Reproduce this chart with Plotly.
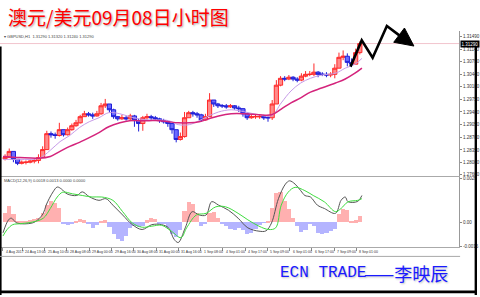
import plotly.graph_objects as go

W, H = 480, 297
def px(x):
    return x / W
def py(y):
    return 1 - y / H

# ---------------- data (3-hour candles of the H1 chart) ----------------
first_open = 1.2811
close = [1.2814, 1.2831, 1.2809, 1.2798, 1.2801, 1.2801, 1.2804, 1.2806, 1.2814, 1.2836,
         1.2880, 1.2877, 1.2875, 1.2891, 1.2877, 1.2891, 1.2902, 1.2910, 1.2927, 1.2935,
         1.2932, 1.2929, 1.2935, 1.2957, 1.2962, 1.2946, 1.2927, 1.2921, 1.2924, 1.2921,
         1.2929, 1.2916, 1.2908, 1.2924, 1.2927, 1.2924, 1.2921, 1.2916, 1.2913, 1.2908,
         1.2891, 1.2864, 1.2872, 1.2924, 1.2938, 1.2935, 1.2932, 1.2918, 1.2927, 1.2973,
         1.2962, 1.2957, 1.2957, 1.2954, 1.2957, 1.2951, 1.2949, 1.2935, 1.2924, 1.2927,
         1.2927, 1.2927, 1.2924, 1.2924, 1.2962, 1.3014, 1.3033, 1.3031, 1.3036, 1.3031,
         1.3028, 1.3039, 1.3044, 1.3044, 1.3050, 1.3044, 1.3044, 1.3042, 1.3044, 1.3061,
         1.3091, 1.3094, 1.3077, 1.3072, 1.3104, 1.3129]
high = [1.2823, 1.2839, 1.2831, 1.2809, 1.2806, 1.2806, 1.2809, 1.2812, 1.2823, 1.2845,
        1.2888, 1.2886, 1.2883, 1.2910, 1.2891, 1.2897, 1.2908, 1.2918, 1.2932, 1.2943,
        1.2940, 1.2938, 1.2943, 1.2965, 1.2976, 1.2962, 1.2949, 1.2929, 1.2932, 1.2929,
        1.2935, 1.2932, 1.2921, 1.2929, 1.2935, 1.2932, 1.2929, 1.2924, 1.2921, 1.2916,
        1.2908, 1.2891, 1.2883, 1.2940, 1.2943, 1.2943, 1.2940, 1.2935, 1.2935, 1.2992,
        1.2973, 1.2965, 1.2962, 1.2962, 1.2962, 1.2959, 1.2957, 1.2951, 1.2938, 1.2932,
        1.2932, 1.2932, 1.2932, 1.2932, 1.2973, 1.3028, 1.3039, 1.3039, 1.3042, 1.3039,
        1.3036, 1.3047, 1.3053, 1.3053, 1.3074, 1.3053, 1.3050, 1.3050, 1.3050, 1.3072,
        1.3104, 1.3110, 1.3102, 1.3088, 1.3115, 1.3135]
low = [1.2806, 1.2814, 1.2801, 1.2793, 1.2795, 1.2795, 1.2798, 1.2798, 1.2798, 1.2814,
       1.2836, 1.2869, 1.2866, 1.2872, 1.2872, 1.2875, 1.2888, 1.2899, 1.2908, 1.2927,
       1.2927, 1.2921, 1.2927, 1.2932, 1.2951, 1.2938, 1.2921, 1.2916, 1.2918, 1.2916,
       1.2918, 1.2899, 1.2886, 1.2888, 1.2918, 1.2916, 1.2916, 1.2910, 1.2908, 1.2899,
       1.2880, 1.2856, 1.2861, 1.2869, 1.2924, 1.2927, 1.2924, 1.2913, 1.2916, 1.2927,
       1.2954, 1.2951, 1.2951, 1.2949, 1.2951, 1.2946, 1.2940, 1.2927, 1.2918, 1.2921,
       1.2921, 1.2921, 1.2918, 1.2913, 1.2918, 1.2962, 1.3011, 1.3025, 1.3028, 1.3025,
       1.3022, 1.3025, 1.3036, 1.3039, 1.3039, 1.3036, 1.3039, 1.3036, 1.3036, 1.3033,
       1.3061, 1.3083, 1.3066, 1.3064, 1.3072, 1.3099]
open_ = [first_open] + close[:-1]
bar_hours = 3
x_candle = [bar_hours * j + bar_hours / 2 for j in range(len(close))]

# moving averages (sampled along the bar axis, in hours)
ma_x = [0, 12, 26, 34, 41, 48, 55, 62, 69, 76, 84, 91, 98, 105, 112, 119, 126, 134, 141, 148,
        155, 164, 174, 184, 193, 200, 207, 214, 221, 229, 239, 246, 253, 258]
ma_fast = [1.2809, 1.2809, 1.2812, 1.2834, 1.2858, 1.2875, 1.2897, 1.2913, 1.2924, 1.2938,
           1.2935, 1.2927, 1.2921, 1.2918, 1.2918, 1.2916, 1.2905, 1.2905, 1.2916, 1.2929,
           1.2940, 1.2946, 1.2940, 1.2932, 1.2929, 1.2965, 1.2998, 1.3020, 1.3033, 1.3042,
           1.3047, 1.3061, 1.3072, 1.3088]
ma_slow = [1.2817, 1.2814, 1.2812, 1.2817, 1.2831, 1.2845, 1.2856, 1.2869, 1.2883, 1.2899,
           1.2910, 1.2916, 1.2916, 1.2916, 1.2916, 1.2913, 1.2910, 1.2910, 1.2913, 1.2921,
           1.2929, 1.2935, 1.2935, 1.2932, 1.2932, 1.2948, 1.2965, 1.2979, 1.2995, 1.3006,
           1.3020, 1.3031, 1.3047, 1.3061]

# MACD panel
macd_hist = [0.00064, 0.00109, 0.00058, 0.00003, 0.00006, 0.00010, 0.00013, 0.00019, 0.00026, 0.00064,
             0.00116, 0.00142, 0.00129, 0.00097, -0.00006, -0.00019, -0.00013, 0.00006, 0.00019, 0.00013,
             -0.00013, -0.00039, -0.00019, 0.00010, 0.00013, -0.00032, -0.00077, -0.00109, -0.00122, -0.00090,
             -0.00039, -0.00026, -0.00032, -0.00026, 0.00013, 0.00026, 0.00019, -0.00006, -0.00013, -0.00039,
             -0.00077, -0.00097, -0.00052, 0.00077, 0.00135, 0.00122, 0.00064, -0.00026, -0.00013, 0.00064,
             0.00071, 0.00032, -0.00006, -0.00026, -0.00045, -0.00052, -0.00039, -0.00052, -0.00077, -0.00071,
             -0.00045, -0.00019, -0.00003, 0.00003, 0.00097, 0.00193, 0.00200, 0.00142, 0.00090, 0.00032,
             -0.00026, -0.00064, -0.00052, -0.00013, -0.00026, -0.00071, -0.00077, -0.00071, -0.00058, -0.00045,
             0.00052, 0.00090, 0.00084, 0.00010, 0.00013, 0.00039]
macd_x = [0, 4, 6, 10, 21, 25, 29, 31, 36, 39, 42, 46, 53, 57, 62, 69, 74, 79, 86, 93,
          100, 107, 114, 119, 123, 126, 131, 136, 141, 146, 150, 155, 162, 169, 176, 184, 189, 193, 198, 203,
          206, 210, 214, 217, 221, 226, 231, 239, 243, 246, 248, 255, 258]
macd_main = [-0.00068, 0.00018, 0.00029, -0.00003, -0.00003, 0.00018, 0.00061, 0.00115, 0.00203, 0.00235,
             0.00222, 0.00190, 0.00179, 0.00203, 0.00171, 0.00147, 0.00158, 0.00115, 0.00050, -0.00014,
             -0.00046, -0.00014, -0.00014, -0.00035, -0.00111, -0.00132, -0.00035, 0.00072, 0.00050, 0.00050,
             0.00138, 0.00115, 0.00082, 0.00029, -0.00035, -0.00057, -0.00055, -0.00003, 0.00158, 0.00254,
             0.00276, 0.00254, 0.00211, 0.00179, 0.00169, 0.00115, 0.00093, 0.00061, 0.00147, 0.00169,
             0.00138, 0.00140, 0.00179]
signal_x = [0, 3, 7, 12, 21, 29, 34, 39, 43, 50, 57, 64, 71, 79, 86, 93, 100, 107, 114, 121,
            128, 132, 139, 146, 153, 160, 169, 176, 184, 191, 196, 200, 205, 210, 217, 223, 231, 239, 243, 248,
            255, 258]
macd_signal = [-0.00089, -0.00046, -0.00014, -0.00008, 0.00003, 0.00029, 0.00093, 0.00169, 0.00201, 0.00190,
               0.00179, 0.00169, 0.00169, 0.00147, 0.00072, -0.00003, -0.00031, -0.00024, -0.00018, -0.00057,
               -0.00100, -0.00035, 0.00050, 0.00061, 0.00104, 0.00104, 0.00061, 0.00018, -0.00024, -0.00046,
               -0.00035, 0.00115, 0.00201, 0.00233, 0.00211, 0.00179, 0.00137, 0.00072, 0.00093, 0.00137,
               0.00147, 0.00158]

price_ticks = [1.31490, 1.31140, 1.30790, 1.30440, 1.30100, 1.29750, 1.29400, 1.29050,
               1.28700, 1.28350, 1.28000, 1.27660]
macd_ticks = [0.0029, 0.0, -0.0016]
macd_tick_text = ["0.0029", "0.00", "-0.0016"]
bid = 1.3129
date_hours = [0, 14, 30, 46, 62, 78, 94, 110, 126, 142, 158, 174, 190, 206, 222, 238, 254]
date_labels = ["4 Aug 2017", "24 Aug 13:00", "25 Aug 10:00", "28 Aug 08:00", "29 Aug 00:00",
               "29 Aug 16:00", "30 Aug 08:00", "31 Aug 00:00", "31 Aug 16:00", "1 Sep 08:00",
               "4 Sep 01:00", "4 Sep 17:00", "5 Sep 09:00", "6 Sep 01:00", "6 Sep 17:00",
               "7 Sep 09:00", "8 Sep 01:00"]

title_text = "澳元/美元09月08日小时图"
header_text = "▾ GBPUSD,H1  1.31290 1.31320 1.31240 1.31290"
macd_text = "MACD(12,26,9) 0.0018 0.0013 0.0000 0.0000"

# ---------------- figure ----------------
fig = go.Figure()

fig.add_trace(go.Candlestick(
    x=x_candle, open=open_, high=high, low=low, close=close,
    increasing=dict(line=dict(color="#ff2a2a", width=1), fillcolor="#ff8a8a"),
    decreasing=dict(line=dict(color="#1f1fd8", width=1), fillcolor="#6a6aff"),
    whiskerwidth=0, xaxis="x", yaxis="y", hoverinfo="skip"))
fig.add_trace(go.Scatter(x=ma_x, y=ma_fast, mode="lines", line=dict(color="#c79be8", width=1, shape="spline"),
                         xaxis="x", yaxis="y", hoverinfo="skip"))
fig.add_trace(go.Scatter(x=ma_x, y=ma_slow, mode="lines", line=dict(color="#d4247c", width=1.5, shape="spline"),
                         xaxis="x", yaxis="y", hoverinfo="skip"))

hist_colors = ["#ffb0b0" if v >= 0 else "#b4b4ff" for v in macd_hist]
fig.add_trace(go.Bar(x=x_candle, y=macd_hist, width=bar_hours, marker=dict(color=hist_colors, line=dict(width=0)),
                     xaxis="x2", yaxis="y2", hoverinfo="skip"))
fig.add_trace(go.Scatter(x=macd_x, y=macd_main, mode="lines", line=dict(color="#555555", width=1, shape="spline"),
                         xaxis="x2", yaxis="y2", hoverinfo="skip"))
fig.add_trace(go.Scatter(x=signal_x, y=macd_signal, mode="lines", line=dict(color="#3fdc3f", width=1, shape="spline"),
                         xaxis="x2", yaxis="y2", hoverinfo="skip"))

x_range = [-3 / 1.4, (462 - 3) / 1.4]
tickfont = dict(family="Liberation Sans", size=4.5, color="#333333")

fig.update_layout(
    width=W, height=H, autosize=False,
    margin=dict(l=0, r=0, t=0, b=0),
    paper_bgcolor="white", plot_bgcolor="white",
    showlegend=False, hovermode=False, bargap=0, boxgap=0, boxgroupgap=0,
    xaxis=dict(domain=[0, px(462)], range=x_range, anchor="y", showticklabels=False,
               showgrid=False, zeroline=False, showline=True, linecolor="#777777", linewidth=1,
               rangeslider=dict(visible=False), ticks=""),
    xaxis2=dict(domain=[0, px(462)], range=x_range, anchor="y2", matches="x", showticklabels=False,
                showgrid=False, zeroline=False, showline=True, mirror=True, linecolor="#aaaaaa", linewidth=1,
                tickvals=date_hours, ticks="outside", ticklen=3, tickcolor="#888888", tickwidth=1),
    yaxis=dict(domain=[py(177), py(30)], range=[1.27624, 1.31646], anchor="x", side="right",
               tickvals=price_ticks, ticktext=["%.5f" % v for v in price_ticks], tickfont=tickfont,
               ticks="outside", ticklen=2, tickcolor="#888888", showgrid=False, zeroline=False,
               showline=True, linecolor="#999999", linewidth=1),
    yaxis2=dict(domain=[py(249), py(178)], range=[-0.00165, 0.0030], anchor="x2", side="right",
                tickvals=macd_ticks, ticktext=macd_tick_text, tickfont=tickfont,
                ticks="outside", ticklen=2, tickcolor="#888888", showgrid=False, zeroline=False,
                showline=True, linecolor="#999999", linewidth=1),
)

shapes = [
    dict(type="line", xref="paper", yref="y", x0=0, x1=px(462), y0=bid, y1=bid,
         line=dict(color="#f2c4cd", width=1), layer="below"),
    dict(type="rect", xref="paper", yref="paper", x0=0, x1=px(1.6), y0=0, y1=py(46),
         fillcolor="black", line=dict(width=0)),
    dict(type="rect", xref="paper", yref="paper", x0=px(477.6), x1=1, y0=0, y1=py(46),
         fillcolor="black", line=dict(width=0)),
    dict(type="rect", xref="paper", yref="paper", x0=0, x1=1, y0=py(295.2), y1=py(292.4),
         fillcolor="black", line=dict(width=0)),
    dict(type="line", xref="paper", yref="paper", x0=0, x1=px(463), y0=py(258), y1=py(258),
         line=dict(color="#a8a8a8", width=1)),
]
# hand-drawn zigzag arrow (decoration)
arrow_pts = [(352.7, 66.3), (364, 39.7), (375, 57.3), (389.3, 25.3), (402.5, 35.2)]
path = "M " + " L ".join("%.5f %.5f" % (px(a), py(b)) for a, b in arrow_pts)
shapes.append(dict(type="path", xref="paper", yref="paper", path=path,
                   line=dict(color="black", width=2.6)))
head = [(416.5, 45.5), (396.2, 41.7), (407, 27.3)]
hpath = "M " + " L ".join("%.5f %.5f" % (px(a), py(b)) for a, b in head) + " Z"
shapes.append(dict(type="path", xref="paper", yref="paper", path=hpath,
                   fillcolor="black", line=dict(color="black", width=1)))
fig.update_layout(shapes=shapes)

ann = []
ann.append(dict(text=title_text, xref="paper", yref="paper", x=px(6), y=py(16),
                xanchor="left", yanchor="middle", showarrow=False,
                font=dict(family="Noto Sans CJK SC", size=19, color="#ff0000",
                          shadow="1px 1px 2px rgba(0,0,0,0.35)")))
ann.append(dict(text=header_text, xref="paper", yref="paper", x=px(2), y=py(35.5),
                xanchor="left", yanchor="middle", showarrow=False,
                font=dict(family="Liberation Sans", size=4, color="#444444")))
ann.append(dict(text=macd_text, xref="paper", yref="paper", x=px(2), y=py(181.5),
                xanchor="left", yanchor="middle", showarrow=False,
                font=dict(family="Liberation Sans", size=4, color="#444444")))
ann.append(dict(text="%.5f" % bid, xref="paper", yref="y", x=px(463), y=bid,
                xanchor="left", yanchor="middle", showarrow=False, bgcolor="black", borderpad=0.5,
                font=dict(family="Liberation Sans", size=4.5, color="white")))
for hx, lab in zip(date_hours, date_labels):
    ann.append(dict(text=lab, xref="x2", yref="paper", x=hx, y=py(253.5),
                    xanchor="left", yanchor="middle", showarrow=False, xshift=1,
                    font=dict(family="Liberation Sans", size=3.5, color="#333333")))
ann.append(dict(text="ECN TRADE", xref="paper", yref="paper", x=px(280), y=py(275),
                xanchor="left", yanchor="middle", showarrow=False,
                font=dict(family="Liberation Mono", size=16, color="#1a1aff",
                          shadow="1px 1px 2px rgba(0,0,0,0.25)")))
ann.append(dict(text="——李映辰", xref="paper", yref="paper", x=px(364), y=py(275),
                xanchor="left", yanchor="middle", showarrow=False,
                font=dict(family="Noto Sans CJK SC", size=18, color="#1a1aff",
                          shadow="1px 1px 2px rgba(0,0,0,0.25)")))
fig.update_layout(annotations=ann)

fig.write_html("out.html")
